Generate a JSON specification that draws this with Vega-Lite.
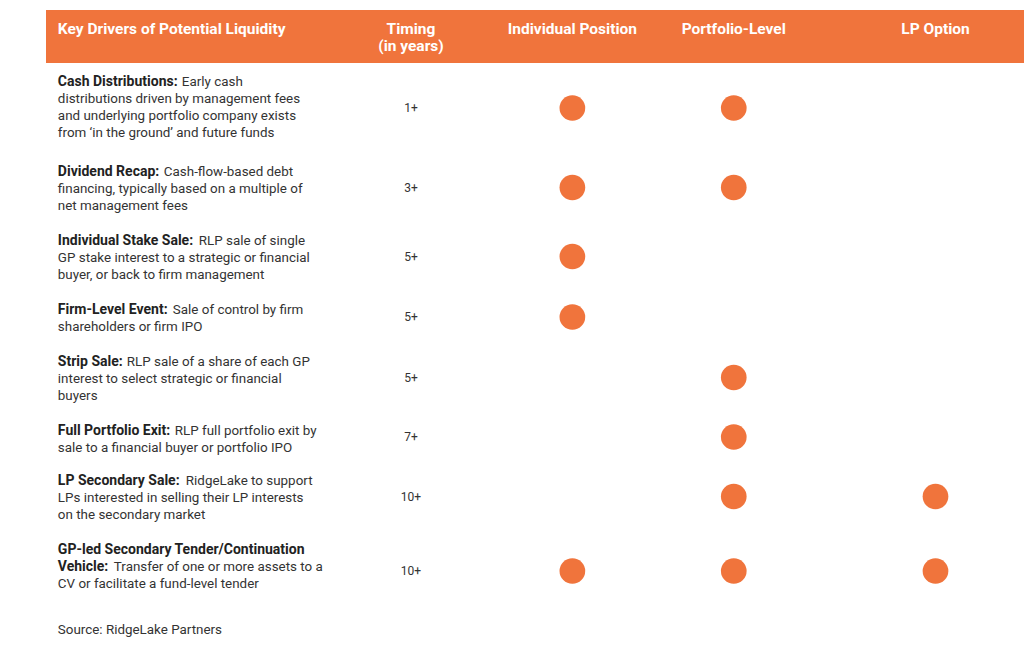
{
"$schema": "https://vega.github.io/schema/vega-lite/v6.json",
"padding": {"left": 46, "top": 10, "right": 0, "bottom": 0},
"background": "white",
"spacing": 0,
"bounds": "flush",
"config": {"view": {"stroke": null}, "font": "Roboto", "text": {"font": "Roboto"}},
"data": {"values": [
{"r":0,"k":"head","c":"Driver","l":0,"t":"Key Drivers of Potential Liquidity"},
{"r":0,"k":"head","c":"Timing","l":0,"t":"Timing"},
{"r":0,"k":"head","c":"Timing","l":1,"t":"(in years)"},
{"r":0,"k":"head","c":"Individual Position","l":0,"t":"Individual Position"},
{"r":0,"k":"head","c":"Portfolio-Level","l":0,"t":"Portfolio-Level"},
{"r":0,"k":"head","c":"LP Option","l":0,"t":"LP Option"},
{"r":1,"k":"title","c":"Driver","l":0,"t":"Cash Distributions:"},
{"r":1,"k":"lead","c":"Driver","l":0,"t":"Early cash"},
{"r":1,"k":"body","c":"Driver","l":1,"t":"distributions driven by management fees"},
{"r":1,"k":"body","c":"Driver","l":2,"t":"and underlying portfolio company exists"},
{"r":1,"k":"body","c":"Driver","l":3,"t":"from ‘in the ground’ and future funds"},
{"r":1,"k":"timing","c":"Timing","t":"1+"},
{"r":1,"k":"dot","c":"Individual Position"},
{"r":1,"k":"dot","c":"Portfolio-Level"},
{"r":2,"k":"title","c":"Driver","l":0,"t":"Dividend Recap:"},
{"r":2,"k":"lead","c":"Driver","l":0,"t":"Cash-flow-based debt"},
{"r":2,"k":"body","c":"Driver","l":1,"t":"financing, typically based on a multiple of"},
{"r":2,"k":"body","c":"Driver","l":2,"t":"net management fees"},
{"r":2,"k":"timing","c":"Timing","t":"3+"},
{"r":2,"k":"dot","c":"Individual Position"},
{"r":2,"k":"dot","c":"Portfolio-Level"},
{"r":3,"k":"title","c":"Driver","l":0,"t":"Individual Stake Sale:"},
{"r":3,"k":"lead","c":"Driver","l":0,"t":"RLP sale of single"},
{"r":3,"k":"body","c":"Driver","l":1,"t":"GP stake interest to a strategic or financial"},
{"r":3,"k":"body","c":"Driver","l":2,"t":"buyer, or back to  firm management"},
{"r":3,"k":"timing","c":"Timing","t":"5+"},
{"r":3,"k":"dot","c":"Individual Position"},
{"r":4,"k":"title","c":"Driver","l":0,"t":"Firm-Level Event:"},
{"r":4,"k":"lead","c":"Driver","l":0,"t":"Sale of control by firm"},
{"r":4,"k":"body","c":"Driver","l":1,"t":"shareholders or firm IPO"},
{"r":4,"k":"timing","c":"Timing","t":"5+"},
{"r":4,"k":"dot","c":"Individual Position"},
{"r":5,"k":"title","c":"Driver","l":0,"t":"Strip Sale:"},
{"r":5,"k":"lead","c":"Driver","l":0,"t":"RLP sale of a share of each GP"},
{"r":5,"k":"body","c":"Driver","l":1,"t":"interest to select strategic or financial"},
{"r":5,"k":"body","c":"Driver","l":2,"t":"buyers"},
{"r":5,"k":"timing","c":"Timing","t":"5+"},
{"r":5,"k":"dot","c":"Portfolio-Level"},
{"r":6,"k":"title","c":"Driver","l":0,"t":"Full Portfolio Exit:"},
{"r":6,"k":"lead","c":"Driver","l":0,"t":"RLP full portfolio exit by"},
{"r":6,"k":"body","c":"Driver","l":1,"t":"sale to a financial buyer or portfolio IPO"},
{"r":6,"k":"timing","c":"Timing","t":"7+"},
{"r":6,"k":"dot","c":"Portfolio-Level"},
{"r":7,"k":"title","c":"Driver","l":0,"t":"LP Secondary Sale:"},
{"r":7,"k":"lead","c":"Driver","l":0,"t":"RidgeLake to support"},
{"r":7,"k":"body","c":"Driver","l":1,"t":"LPs interested in selling their LP interests"},
{"r":7,"k":"body","c":"Driver","l":2,"t":"on the secondary market"},
{"r":7,"k":"timing","c":"Timing","t":"10+"},
{"r":7,"k":"dot","c":"Portfolio-Level"},
{"r":7,"k":"dot","c":"LP Option"},
{"r":8,"k":"title","c":"Driver","l":0,"t":"GP-led Secondary Tender/Continuation"},
{"r":8,"k":"title","c":"Driver","l":1,"t":"Vehicle:"},
{"r":8,"k":"lead","c":"Driver","l":1,"t":"Transfer of one or more assets to a"},
{"r":8,"k":"body","c":"Driver","l":2,"t":"CV or facilitate a fund-level tender"},
{"r":8,"k":"timing","c":"Timing","t":"10+"},
{"r":8,"k":"dot","c":"Individual Position"},
{"r":8,"k":"dot","c":"Portfolio-Level"},
{"r":8,"k":"dot","c":"LP Option"},
{"r":9,"k":"source","c":"Driver","l":0,"t":"Source: RidgeLake Partners"}
]},
"vconcat": [
{"width": 978, "height": 53, "view": {"fill": "#F0743C", "stroke": null},
 "transform": [{"filter": "datum.r == 0"}],
 "encoding": {"x": {"field": "c", "type": "nominal", "axis": null, "scale": {"type": "point", "padding": 0, "range": [1.85, 889.5], "domain": ["Driver","d1","d2","d3","d4","d5","d6","d7","d8","Timing","t1","t2","t3","Individual Position","i1","i2","i3","Portfolio-Level","p1","p2","p3","p4","LP Option"]}},
   "y": {"field": "l", "type": "ordinal", "axis": null, "scale": {"type": "point", "padding": 0, "domain": [0,1,2,3], "range": [18.5, 69.5]}},
   "text": {"field": "t"}},
 "layer": [
  {"transform": [{"filter": "datum.c == 'Driver'"}], "mark": {"type": "text", "align": "left", "dx": 10, "fontSize": 15.5, "fontWeight": "bold", "color": "white"}},
  {"transform": [{"filter": "datum.c != 'Driver'"}], "mark": {"type": "text", "align": "center", "fontSize": 15.5, "fontWeight": "bold", "color": "white"}}
 ]},
{"width": 978, "height": 90,
 "transform": [{"filter": "datum.r == 1"}],
 "encoding": {"x": {"field": "c", "type": "nominal", "axis": null, "scale": {"type": "point", "padding": 0, "range": [1.85, 889.5], "domain": ["Driver","d1","d2","d3","d4","d5","d6","d7","d8","Timing","t1","t2","t3","Individual Position","i1","i2","i3","Portfolio-Level","p1","p2","p3","p4","LP Option"]}}},
 "layer": [
  {"transform": [{"filter": "datum.k == 'title'"}], "mark": {"type": "text", "align": "left", "dx": 10, "fontSize": 14, "fontWeight": "bold", "color": "#222222"}, "encoding": {"y": {"field": "l", "type": "ordinal", "axis": null, "scale": {"type": "point", "padding": 0, "domain": [0,1,2,3], "range": [18.5, 69.5]}}, "text": {"field": "t"}}},
  {"transform": [{"filter": "datum.k == 'lead'"}], "mark": {"type": "text", "align": "left", "dx": 134, "fontSize": 13.4, "color": "#333333"}, "encoding": {"y": {"field": "l", "type": "ordinal", "axis": null, "scale": {"type": "point", "padding": 0, "domain": [0,1,2,3], "range": [18.5, 69.5]}}, "text": {"field": "t"}}},
  {"transform": [{"filter": "datum.k == 'body'"}], "mark": {"type": "text", "align": "left", "dx": 10, "fontSize": 13.4, "color": "#333333"}, "encoding": {"y": {"field": "l", "type": "ordinal", "axis": null, "scale": {"type": "point", "padding": 0, "domain": [0,1,2,3], "range": [18.5, 69.5]}}, "text": {"field": "t"}}},
  {"transform": [{"filter": "datum.k == 'timing'"}], "mark": {"type": "text", "align": "center", "baseline": "middle", "fontSize": 12, "color": "#333333"}, "encoding": {"text": {"field": "t"}}},
  {"transform": [{"filter": "datum.k == 'dot'"}], "mark": {"type": "point", "filled": true, "size": 660, "opacity": 1, "color": "#F0743C"}, "encoding": {}}
 ]},
{"width": 978, "height": 69,
 "transform": [{"filter": "datum.r == 2"}],
 "encoding": {"x": {"field": "c", "type": "nominal", "axis": null, "scale": {"type": "point", "padding": 0, "range": [1.85, 889.5], "domain": ["Driver","d1","d2","d3","d4","d5","d6","d7","d8","Timing","t1","t2","t3","Individual Position","i1","i2","i3","Portfolio-Level","p1","p2","p3","p4","LP Option"]}}},
 "layer": [
  {"transform": [{"filter": "datum.k == 'title'"}], "mark": {"type": "text", "align": "left", "dx": 10, "fontSize": 14, "fontWeight": "bold", "color": "#222222"}, "encoding": {"y": {"field": "l", "type": "ordinal", "axis": null, "scale": {"type": "point", "padding": 0, "domain": [0,1,2,3], "range": [18.5, 69.5]}}, "text": {"field": "t"}}},
  {"transform": [{"filter": "datum.k == 'lead'"}], "mark": {"type": "text", "align": "left", "dx": 116, "fontSize": 13.4, "color": "#333333"}, "encoding": {"y": {"field": "l", "type": "ordinal", "axis": null, "scale": {"type": "point", "padding": 0, "domain": [0,1,2,3], "range": [18.5, 69.5]}}, "text": {"field": "t"}}},
  {"transform": [{"filter": "datum.k == 'body'"}], "mark": {"type": "text", "align": "left", "dx": 10, "fontSize": 13.4, "color": "#333333"}, "encoding": {"y": {"field": "l", "type": "ordinal", "axis": null, "scale": {"type": "point", "padding": 0, "domain": [0,1,2,3], "range": [18.5, 69.5]}}, "text": {"field": "t"}}},
  {"transform": [{"filter": "datum.k == 'timing'"}], "mark": {"type": "text", "align": "center", "baseline": "middle", "fontSize": 12, "color": "#333333"}, "encoding": {"text": {"field": "t"}}},
  {"transform": [{"filter": "datum.k == 'dot'"}], "mark": {"type": "point", "filled": true, "size": 660, "opacity": 1, "color": "#F0743C"}, "encoding": {}}
 ]},
{"width": 978, "height": 69,
 "transform": [{"filter": "datum.r == 3"}],
 "encoding": {"x": {"field": "c", "type": "nominal", "axis": null, "scale": {"type": "point", "padding": 0, "range": [1.85, 889.5], "domain": ["Driver","d1","d2","d3","d4","d5","d6","d7","d8","Timing","t1","t2","t3","Individual Position","i1","i2","i3","Portfolio-Level","p1","p2","p3","p4","LP Option"]}}},
 "layer": [
  {"transform": [{"filter": "datum.k == 'title'"}], "mark": {"type": "text", "align": "left", "dx": 10, "fontSize": 14, "fontWeight": "bold", "color": "#222222"}, "encoding": {"y": {"field": "l", "type": "ordinal", "axis": null, "scale": {"type": "point", "padding": 0, "domain": [0,1,2,3], "range": [18.5, 69.5]}}, "text": {"field": "t"}}},
  {"transform": [{"filter": "datum.k == 'lead'"}], "mark": {"type": "text", "align": "left", "dx": 151, "fontSize": 13.4, "color": "#333333"}, "encoding": {"y": {"field": "l", "type": "ordinal", "axis": null, "scale": {"type": "point", "padding": 0, "domain": [0,1,2,3], "range": [18.5, 69.5]}}, "text": {"field": "t"}}},
  {"transform": [{"filter": "datum.k == 'body'"}], "mark": {"type": "text", "align": "left", "dx": 10, "fontSize": 13.4, "color": "#333333"}, "encoding": {"y": {"field": "l", "type": "ordinal", "axis": null, "scale": {"type": "point", "padding": 0, "domain": [0,1,2,3], "range": [18.5, 69.5]}}, "text": {"field": "t"}}},
  {"transform": [{"filter": "datum.k == 'timing'"}], "mark": {"type": "text", "align": "center", "baseline": "middle", "fontSize": 12, "color": "#333333"}, "encoding": {"text": {"field": "t"}}},
  {"transform": [{"filter": "datum.k == 'dot'"}], "mark": {"type": "point", "filled": true, "size": 660, "opacity": 1, "color": "#F0743C"}, "encoding": {}}
 ]},
{"width": 978, "height": 52,
 "transform": [{"filter": "datum.r == 4"}],
 "encoding": {"x": {"field": "c", "type": "nominal", "axis": null, "scale": {"type": "point", "padding": 0, "range": [1.85, 889.5], "domain": ["Driver","d1","d2","d3","d4","d5","d6","d7","d8","Timing","t1","t2","t3","Individual Position","i1","i2","i3","Portfolio-Level","p1","p2","p3","p4","LP Option"]}}},
 "layer": [
  {"transform": [{"filter": "datum.k == 'title'"}], "mark": {"type": "text", "align": "left", "dx": 10, "fontSize": 14, "fontWeight": "bold", "color": "#222222"}, "encoding": {"y": {"field": "l", "type": "ordinal", "axis": null, "scale": {"type": "point", "padding": 0, "domain": [0,1,2,3], "range": [18.5, 69.5]}}, "text": {"field": "t"}}},
  {"transform": [{"filter": "datum.k == 'lead'"}], "mark": {"type": "text", "align": "left", "dx": 125, "fontSize": 13.4, "color": "#333333"}, "encoding": {"y": {"field": "l", "type": "ordinal", "axis": null, "scale": {"type": "point", "padding": 0, "domain": [0,1,2,3], "range": [18.5, 69.5]}}, "text": {"field": "t"}}},
  {"transform": [{"filter": "datum.k == 'body'"}], "mark": {"type": "text", "align": "left", "dx": 10, "fontSize": 13.4, "color": "#333333"}, "encoding": {"y": {"field": "l", "type": "ordinal", "axis": null, "scale": {"type": "point", "padding": 0, "domain": [0,1,2,3], "range": [18.5, 69.5]}}, "text": {"field": "t"}}},
  {"transform": [{"filter": "datum.k == 'timing'"}], "mark": {"type": "text", "align": "center", "baseline": "middle", "fontSize": 12, "color": "#333333"}, "encoding": {"text": {"field": "t"}}},
  {"transform": [{"filter": "datum.k == 'dot'"}], "mark": {"type": "point", "filled": true, "size": 660, "opacity": 1, "color": "#F0743C"}, "encoding": {}}
 ]},
{"width": 978, "height": 69,
 "transform": [{"filter": "datum.r == 5"}],
 "encoding": {"x": {"field": "c", "type": "nominal", "axis": null, "scale": {"type": "point", "padding": 0, "range": [1.85, 889.5], "domain": ["Driver","d1","d2","d3","d4","d5","d6","d7","d8","Timing","t1","t2","t3","Individual Position","i1","i2","i3","Portfolio-Level","p1","p2","p3","p4","LP Option"]}}},
 "layer": [
  {"transform": [{"filter": "datum.k == 'title'"}], "mark": {"type": "text", "align": "left", "dx": 10, "fontSize": 14, "fontWeight": "bold", "color": "#222222"}, "encoding": {"y": {"field": "l", "type": "ordinal", "axis": null, "scale": {"type": "point", "padding": 0, "domain": [0,1,2,3], "range": [18.5, 69.5]}}, "text": {"field": "t"}}},
  {"transform": [{"filter": "datum.k == 'lead'"}], "mark": {"type": "text", "align": "left", "dx": 79, "fontSize": 13.4, "color": "#333333"}, "encoding": {"y": {"field": "l", "type": "ordinal", "axis": null, "scale": {"type": "point", "padding": 0, "domain": [0,1,2,3], "range": [18.5, 69.5]}}, "text": {"field": "t"}}},
  {"transform": [{"filter": "datum.k == 'body'"}], "mark": {"type": "text", "align": "left", "dx": 10, "fontSize": 13.4, "color": "#333333"}, "encoding": {"y": {"field": "l", "type": "ordinal", "axis": null, "scale": {"type": "point", "padding": 0, "domain": [0,1,2,3], "range": [18.5, 69.5]}}, "text": {"field": "t"}}},
  {"transform": [{"filter": "datum.k == 'timing'"}], "mark": {"type": "text", "align": "center", "baseline": "middle", "fontSize": 12, "color": "#333333"}, "encoding": {"text": {"field": "t"}}},
  {"transform": [{"filter": "datum.k == 'dot'"}], "mark": {"type": "point", "filled": true, "size": 660, "opacity": 1, "color": "#F0743C"}, "encoding": {}}
 ]},
{"width": 978, "height": 50,
 "transform": [{"filter": "datum.r == 6"}],
 "encoding": {"x": {"field": "c", "type": "nominal", "axis": null, "scale": {"type": "point", "padding": 0, "range": [1.85, 889.5], "domain": ["Driver","d1","d2","d3","d4","d5","d6","d7","d8","Timing","t1","t2","t3","Individual Position","i1","i2","i3","Portfolio-Level","p1","p2","p3","p4","LP Option"]}}},
 "layer": [
  {"transform": [{"filter": "datum.k == 'title'"}], "mark": {"type": "text", "align": "left", "dx": 10, "fontSize": 14, "fontWeight": "bold", "color": "#222222"}, "encoding": {"y": {"field": "l", "type": "ordinal", "axis": null, "scale": {"type": "point", "padding": 0, "domain": [0,1,2,3], "range": [18.5, 69.5]}}, "text": {"field": "t"}}},
  {"transform": [{"filter": "datum.k == 'lead'"}], "mark": {"type": "text", "align": "left", "dx": 127, "fontSize": 13.4, "color": "#333333"}, "encoding": {"y": {"field": "l", "type": "ordinal", "axis": null, "scale": {"type": "point", "padding": 0, "domain": [0,1,2,3], "range": [18.5, 69.5]}}, "text": {"field": "t"}}},
  {"transform": [{"filter": "datum.k == 'body'"}], "mark": {"type": "text", "align": "left", "dx": 10, "fontSize": 13.4, "color": "#333333"}, "encoding": {"y": {"field": "l", "type": "ordinal", "axis": null, "scale": {"type": "point", "padding": 0, "domain": [0,1,2,3], "range": [18.5, 69.5]}}, "text": {"field": "t"}}},
  {"transform": [{"filter": "datum.k == 'timing'"}], "mark": {"type": "text", "align": "center", "baseline": "middle", "fontSize": 12, "color": "#333333"}, "encoding": {"text": {"field": "t"}}},
  {"transform": [{"filter": "datum.k == 'dot'"}], "mark": {"type": "point", "filled": true, "size": 660, "opacity": 1, "color": "#F0743C"}, "encoding": {}}
 ]},
{"width": 978, "height": 69,
 "transform": [{"filter": "datum.r == 7"}],
 "encoding": {"x": {"field": "c", "type": "nominal", "axis": null, "scale": {"type": "point", "padding": 0, "range": [1.85, 889.5], "domain": ["Driver","d1","d2","d3","d4","d5","d6","d7","d8","Timing","t1","t2","t3","Individual Position","i1","i2","i3","Portfolio-Level","p1","p2","p3","p4","LP Option"]}}},
 "layer": [
  {"transform": [{"filter": "datum.k == 'title'"}], "mark": {"type": "text", "align": "left", "dx": 10, "fontSize": 14, "fontWeight": "bold", "color": "#222222"}, "encoding": {"y": {"field": "l", "type": "ordinal", "axis": null, "scale": {"type": "point", "padding": 0, "domain": [0,1,2,3], "range": [18.5, 69.5]}}, "text": {"field": "t"}}},
  {"transform": [{"filter": "datum.k == 'lead'"}], "mark": {"type": "text", "align": "left", "dx": 138, "fontSize": 13.4, "color": "#333333"}, "encoding": {"y": {"field": "l", "type": "ordinal", "axis": null, "scale": {"type": "point", "padding": 0, "domain": [0,1,2,3], "range": [18.5, 69.5]}}, "text": {"field": "t"}}},
  {"transform": [{"filter": "datum.k == 'body'"}], "mark": {"type": "text", "align": "left", "dx": 10, "fontSize": 13.4, "color": "#333333"}, "encoding": {"y": {"field": "l", "type": "ordinal", "axis": null, "scale": {"type": "point", "padding": 0, "domain": [0,1,2,3], "range": [18.5, 69.5]}}, "text": {"field": "t"}}},
  {"transform": [{"filter": "datum.k == 'timing'"}], "mark": {"type": "text", "align": "center", "baseline": "middle", "fontSize": 12, "color": "#333333"}, "encoding": {"text": {"field": "t"}}},
  {"transform": [{"filter": "datum.k == 'dot'"}], "mark": {"type": "point", "filled": true, "size": 660, "opacity": 1, "color": "#F0743C"}, "encoding": {}}
 ]},
{"width": 978, "height": 80,
 "transform": [{"filter": "datum.r == 8"}],
 "encoding": {"x": {"field": "c", "type": "nominal", "axis": null, "scale": {"type": "point", "padding": 0, "range": [1.85, 889.5], "domain": ["Driver","d1","d2","d3","d4","d5","d6","d7","d8","Timing","t1","t2","t3","Individual Position","i1","i2","i3","Portfolio-Level","p1","p2","p3","p4","LP Option"]}}},
 "layer": [
  {"transform": [{"filter": "datum.k == 'title'"}], "mark": {"type": "text", "align": "left", "dx": 10, "fontSize": 14, "fontWeight": "bold", "color": "#222222"}, "encoding": {"y": {"field": "l", "type": "ordinal", "axis": null, "scale": {"type": "point", "padding": 0, "domain": [0,1,2,3], "range": [18.5, 69.5]}}, "text": {"field": "t"}}},
  {"transform": [{"filter": "datum.k == 'lead'"}], "mark": {"type": "text", "align": "left", "dx": 66, "fontSize": 13.4, "color": "#333333"}, "encoding": {"y": {"field": "l", "type": "ordinal", "axis": null, "scale": {"type": "point", "padding": 0, "domain": [0,1,2,3], "range": [18.5, 69.5]}}, "text": {"field": "t"}}},
  {"transform": [{"filter": "datum.k == 'body'"}], "mark": {"type": "text", "align": "left", "dx": 10, "fontSize": 13.4, "color": "#333333"}, "encoding": {"y": {"field": "l", "type": "ordinal", "axis": null, "scale": {"type": "point", "padding": 0, "domain": [0,1,2,3], "range": [18.5, 69.5]}}, "text": {"field": "t"}}},
  {"transform": [{"filter": "datum.k == 'timing'"}], "mark": {"type": "text", "align": "center", "baseline": "middle", "fontSize": 12, "color": "#333333"}, "encoding": {"text": {"field": "t"}}},
  {"transform": [{"filter": "datum.k == 'dot'"}], "mark": {"type": "point", "filled": true, "size": 660, "opacity": 1, "color": "#F0743C"}, "encoding": {}}
 ]},
{"width": 978, "height": 34,
 "transform": [{"filter": "datum.r == 9"}],
 "mark": {"type": "text", "align": "left", "dx": 10, "fontSize": 13.4, "color": "#333333"},
 "encoding": {"x": {"field": "c", "type": "nominal", "axis": null, "scale": {"type": "point", "padding": 0, "range": [1.85, 889.5], "domain": ["Driver","d1","d2","d3","d4","d5","d6","d7","d8","Timing","t1","t2","t3","Individual Position","i1","i2","i3","Portfolio-Level","p1","p2","p3","p4","LP Option"]}},
   "y": {"field": "l", "type": "ordinal", "axis": null, "scale": {"type": "point", "padding": 0, "domain": [0,1,2,3], "range": [18.5, 69.5]}},
   "text": {"field": "t"}}}
]
}
